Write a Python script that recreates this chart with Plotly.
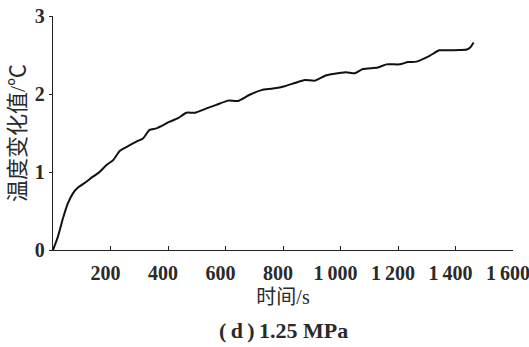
import plotly.graph_objects as go

time_s = [0, 17, 35, 52, 70, 87, 116, 139, 162, 186, 209, 232, 255, 290, 313, 336, 360,
          406, 435, 464, 493, 534, 568, 609, 643, 684, 725, 765, 806, 841, 876, 910, 951,
          990, 1020, 1049, 1078, 1130, 1160, 1206, 1235, 1264, 1310, 1344, 1374, 1414,
          1440, 1452, 1463]
temp_change = [0, 0.17, 0.41, 0.60, 0.73, 0.80, 0.875, 0.94, 1.0, 1.09, 1.15, 1.27, 1.32,
               1.39, 1.43, 1.54, 1.56, 1.645, 1.69, 1.76, 1.76, 1.815, 1.86, 1.915, 1.91,
               1.99, 2.05, 2.07, 2.10, 2.14, 2.18, 2.17, 2.24, 2.265, 2.28, 2.265, 2.32,
               2.34, 2.38, 2.38, 2.41, 2.415, 2.49, 2.56, 2.56, 2.565, 2.57, 2.60, 2.66]

x_tickvals = [200, 400, 600, 800, 1000, 1200, 1400, 1600]
x_ticktext = ["200", "400", "600", "800", "1\u2009000", "1\u2009200", "1\u2009400", "1\u2009600"]
y_tickvals = [0, 1, 2, 3]
y_ticktext = ["0", "1", "2", "3"]
caption = "(\u2009d\u2009)\u20091.25 MPa"

FONT = "Liberation Serif, Noto Sans CJK SC, serif"
TXT = "#2a2a2a"

fig = go.Figure()
fig.add_trace(go.Scatter(
    x=time_s, y=temp_change, mode="lines",
    line=dict(color="#111111", width=2, shape="spline", smoothing=0.6),
    showlegend=False, hoverinfo="skip",
))

fig.update_layout(
    width=529, height=347,
    margin=dict(l=53, r=16, t=16, b=97, autoexpand=False),
    paper_bgcolor="white", plot_bgcolor="white",
    font=dict(family=FONT, color=TXT, size=19),
    xaxis=dict(
        range=[0, 1600], tickvals=x_tickvals, ticktext=x_ticktext,
        ticks="inside", ticklen=4, tickwidth=1.2, tickcolor="#222",
        showline=True, linecolor="#222", linewidth=1.4,
        showgrid=False, zeroline=False, automargin=False,
        tickfont=dict(family=FONT, size=20, color=TXT, weight="bold"),
        ticklabelshift=-5, ticklabelstandoff=5, ticklabeloverflow="allow",
        title=dict(text="时间/s", font=dict(family=FONT, size=20, color=TXT), standoff=6),
    ),
    yaxis=dict(
        range=[0, 3], tickvals=y_tickvals, ticktext=y_ticktext,
        ticks="outside", ticklen=3, tickwidth=1.2, tickcolor="#222",
        showline=True, linecolor="#222", linewidth=1.4,
        showgrid=False, zeroline=False, automargin=False,
        tickfont=dict(family=FONT, size=20, color=TXT, weight="bold"),
        ticklabeloverflow="allow",
        title=dict(text="温度变化值/℃", font=dict(family=FONT, size=22, color=TXT), standoff=3),
    ),
    annotations=[dict(
        text=caption, xref="paper", yref="paper", x=0.5, y=-0.346,
        xanchor="center", yanchor="middle", showarrow=False,
        font=dict(family=FONT, size=22, color=TXT, weight="bold"),
    )],
)

fig.write_html("out.html", config={"displayModeBar": False},
               post_script="document.body.style.margin='0';")
